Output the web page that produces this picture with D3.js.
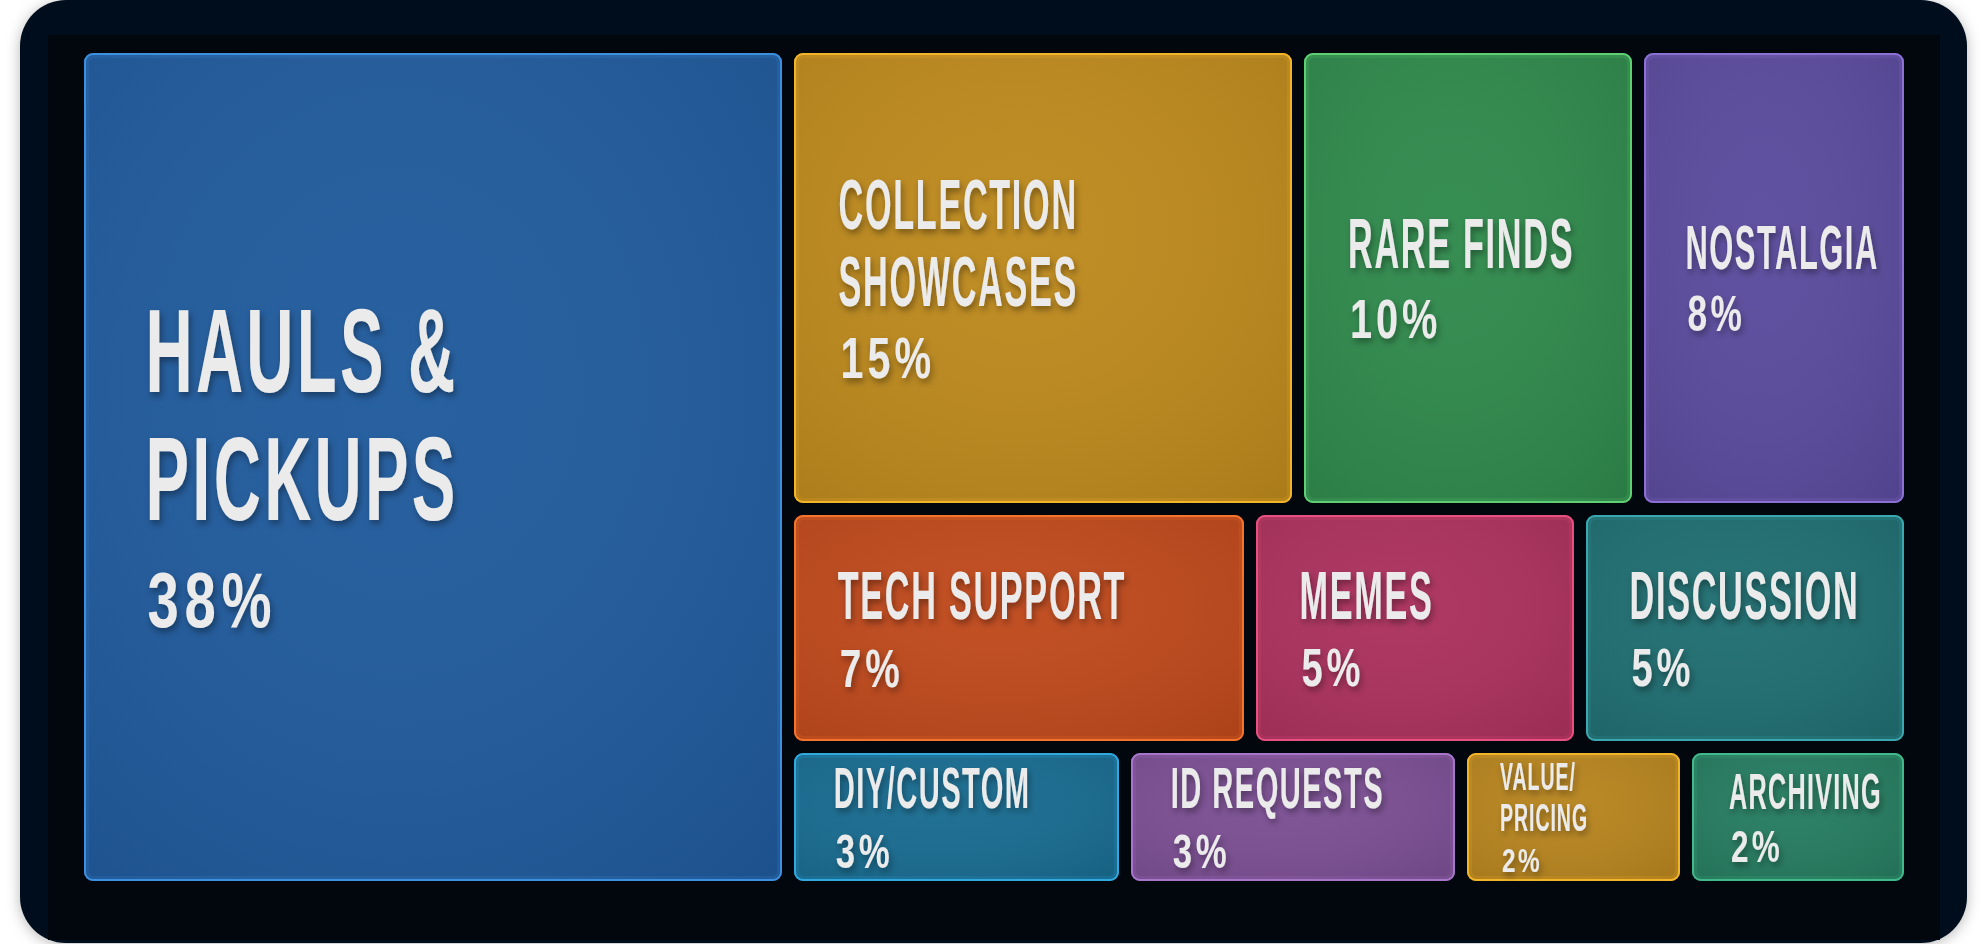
<!DOCTYPE html>
<html><head><meta charset="utf-8">
<script src="https://cdn.jsdelivr.net/npm/d3@7"></script>
<style>html,body{margin:0;padding:0;background:#ffffff;} svg{display:block}</style>
</head><body><svg id="chart" width="1988" height="944"></svg>
<script>
// ---- data ----
const categories = ["Hauls & Pickups","Collection Showcases","Rare Finds","Nostalgia","Tech Support","Memes","Discussion","DIY/Custom","ID Requests","Value/Pricing","Archiving"];
const shares = [38,15,10,8,7,5,5,3,3,2,2];
// group: 0 = own column on the left, 1..3 = rows of the right-hand block
const groups = [0,1,1,1,2,2,2,3,3,3,3];
const fills = ["#1f5a9c","#bd891c","#2e894b","#5a4a9d","#bf481b","#ab305c","#1e6d70","#176b90","#7b4e93","#b7841d","#247b5f"];
const strokes = ["#3d8fe0","#f2b52a","#5fcf73","#8c70d6","#f5742c","#e8517f","#3ba7b0","#30a9de","#a775c9","#f2b52a","#42b98a"];

// ---- layout ----
const svg = d3.select("#chart");
const defs = svg.append("defs");

const cardShadow = defs.append("filter").attr("id","cardShadow").attr("x","-5%").attr("y","-5%").attr("width","110%").attr("height","110%");
cardShadow.append("feDropShadow").attr("dx",0).attr("dy",2).attr("stdDeviation",7).attr("flood-color","#000").attr("flood-opacity",0.28);

const textShadow = defs.append("filter").attr("id","textShadow").attr("x","-10%").attr("y","-30%").attr("width","130%").attr("height","170%");
textShadow.append("feDropShadow").attr("dx",2).attr("dy",4).attr("stdDeviation",3).attr("flood-color","#000").attr("flood-opacity",0.35);

const sheen = defs.append("radialGradient").attr("id","sheen").attr("cx",0.45).attr("cy",0.4).attr("r",0.8);
sheen.append("stop").attr("offset",0).attr("stop-color","#ffffff").attr("stop-opacity",0.04);
sheen.append("stop").attr("offset",1).attr("stop-color","#000000").attr("stop-opacity",0.10);

// card
svg.append("rect").attr("x",20).attr("y",0).attr("width",1947).attr("height",943)
  .attr("rx",46).attr("fill","#04101d").attr("filter","url(#cardShadow)");
svg.append("rect").attr("x",48).attr("y",35).attr("width",1892).attr("height",905).attr("fill","#02070e");

const area = {x:84, y:53, w:1820, h:828};

const rootData = {name:"root", children:[]};
const rest = {name:"rest", children:[{name:"row1",children:[]},{name:"row2",children:[]},{name:"row3",children:[]}]};
categories.forEach((c,i)=>{
  const leaf = {name:c, value:shares[i], i};
  if (groups[i]===0) rootData.children.push(leaf);
  else rest.children[groups[i]-1].children.push(leaf);
});
rootData.children.push(rest);

const root = d3.hierarchy(rootData).sum(d => d.value || 0);
d3.treemap().size([area.w, area.h]).paddingInner(12).tile(d3.treemapSliceDice).round(true)(root);

const capScale = d3.scaleLinear().domain([2,5,15,38]).range([38,49,51,85]).clamp(true);
const pctScale = d3.scaleLinear().domain([2,5,15,38]).range([33,38,41,56]).clamp(true);
const sxScale  = d3.scaleLinear().domain([5,15,38]).range([0.5,0.48,0.55]).clamp(true); // condensing of the name face
const PSX = 0.72;           // horizontal condensing of the percent face
const LS = 0.05;            // letter spacing (em)
const CAP = 0.716;          // cap-height ratio of the font
const FONT = "'Liberation Sans',Arial,sans-serif";

const g = svg.append("g").attr("transform",`translate(${area.x},${area.y})`);
const measurer = svg.append("text").attr("font-family",FONT).attr("font-weight",700).attr("visibility","hidden");
function textW(str, fs, sx){
  measurer.attr("font-size",fs).attr("letter-spacing",(LS*fs)+"px").text(str);
  return measurer.node().getComputedTextLength()*sx;
}

const leaves = root.leaves();
const tile = g.selectAll("g.tile").data(leaves).join("g").attr("class","tile")
  .attr("transform", d=>`translate(${d.x0},${d.y0})`);

tile.append("rect").attr("width",d=>d.x1-d.x0).attr("height",d=>d.y1-d.y0).attr("rx",9)
  .attr("fill",d=>fills[d.data.i]);
tile.append("rect").attr("width",d=>d.x1-d.x0).attr("height",d=>d.y1-d.y0).attr("rx",9)
  .attr("fill","url(#sheen)");
tile.append("rect").attr("x",3).attr("y",3).attr("width",d=>d.x1-d.x0-6).attr("height",d=>d.y1-d.y0-6).attr("rx",7)
  .attr("fill","none").attr("stroke",d=>strokes[d.data.i]).attr("stroke-opacity",0.16).attr("stroke-width",4);
tile.append("rect").attr("x",1).attr("y",1).attr("width",d=>d.x1-d.x0-2).attr("height",d=>d.y1-d.y0-2).attr("rx",8)
  .attr("fill","none").attr("stroke",d=>strokes[d.data.i]).attr("stroke-width",2);

tile.each(function(d){
  const w = d.x1-d.x0, h = d.y1-d.y0;
  const sx = sxScale(d.data.value);
  let cap = capScale(d.data.value), pcap = pctScale(d.data.value);
  let lines, blockH, pad, step, gap;
  for (let k=0;k<14;k++){
    const fs = cap/CAP;
    pad = 38 + (cap-38)*0.5;
    step = cap*1.5; gap = cap*0.6;
    const maxW = w - 2*pad;
    const upper = d.data.name.toUpperCase();
    const tokens = [];
    upper.split(" ").forEach((word,wi)=>{
      const parts = word.split("/");
      parts.forEach((p,pi)=>{
        tokens.push({t: p + (pi<parts.length-1?"/":""), sp: pi===0 && wi>0});
      });
    });
    lines = [];
    let cur = "";
    tokens.forEach(tk=>{
      const cand = cur==="" ? tk.t : cur + (tk.sp?" ":"") + tk.t;
      if (cur!=="" && textW(cand,fs,sx) > maxW){ lines.push(cur); cur = tk.t; }
      else cur = cand;
    });
    lines.push(cur);
    blockH = cap + (lines.length-1)*step + gap + pcap;
    const widest = d3.max(lines, l=>textW(l,fs,sx));
    if (blockH <= h - 14 && widest <= w - pad - 16) break;
    cap *= 0.95; pcap *= 0.95;
  }
  const fs = cap/CAP, pfs = pcap/CAP;
  const top = (h - blockH)/2;
  const sel = d3.select(this);
  const lab = sel.append("g").attr("filter","url(#textShadow)").attr("fill","#ebebeb")
    .attr("font-family",FONT).attr("font-weight",700);
  const nameText = lab.append("text").attr("class","name")
    .attr("transform",`translate(${pad},${top + cap}) scale(${sx},1)`)
    .attr("font-size",fs).attr("letter-spacing",(LS*fs)+"px");
  lines.forEach((l,li)=>{
    nameText.append("tspan").attr("x",0).attr("dy", li===0 ? 0 : step).text(l);
  });
  const lastBase = top + cap + (lines.length-1)*step;
  lab.append("text").attr("class","pct")
    .attr("transform",`translate(${pad+2},${lastBase + gap + pcap}) scale(${PSX},1)`)
    .attr("font-size",pfs).attr("letter-spacing",(0.1*pfs)+"px").text(d.data.value + "%");
});
measurer.remove();
</script>
</body></html>
